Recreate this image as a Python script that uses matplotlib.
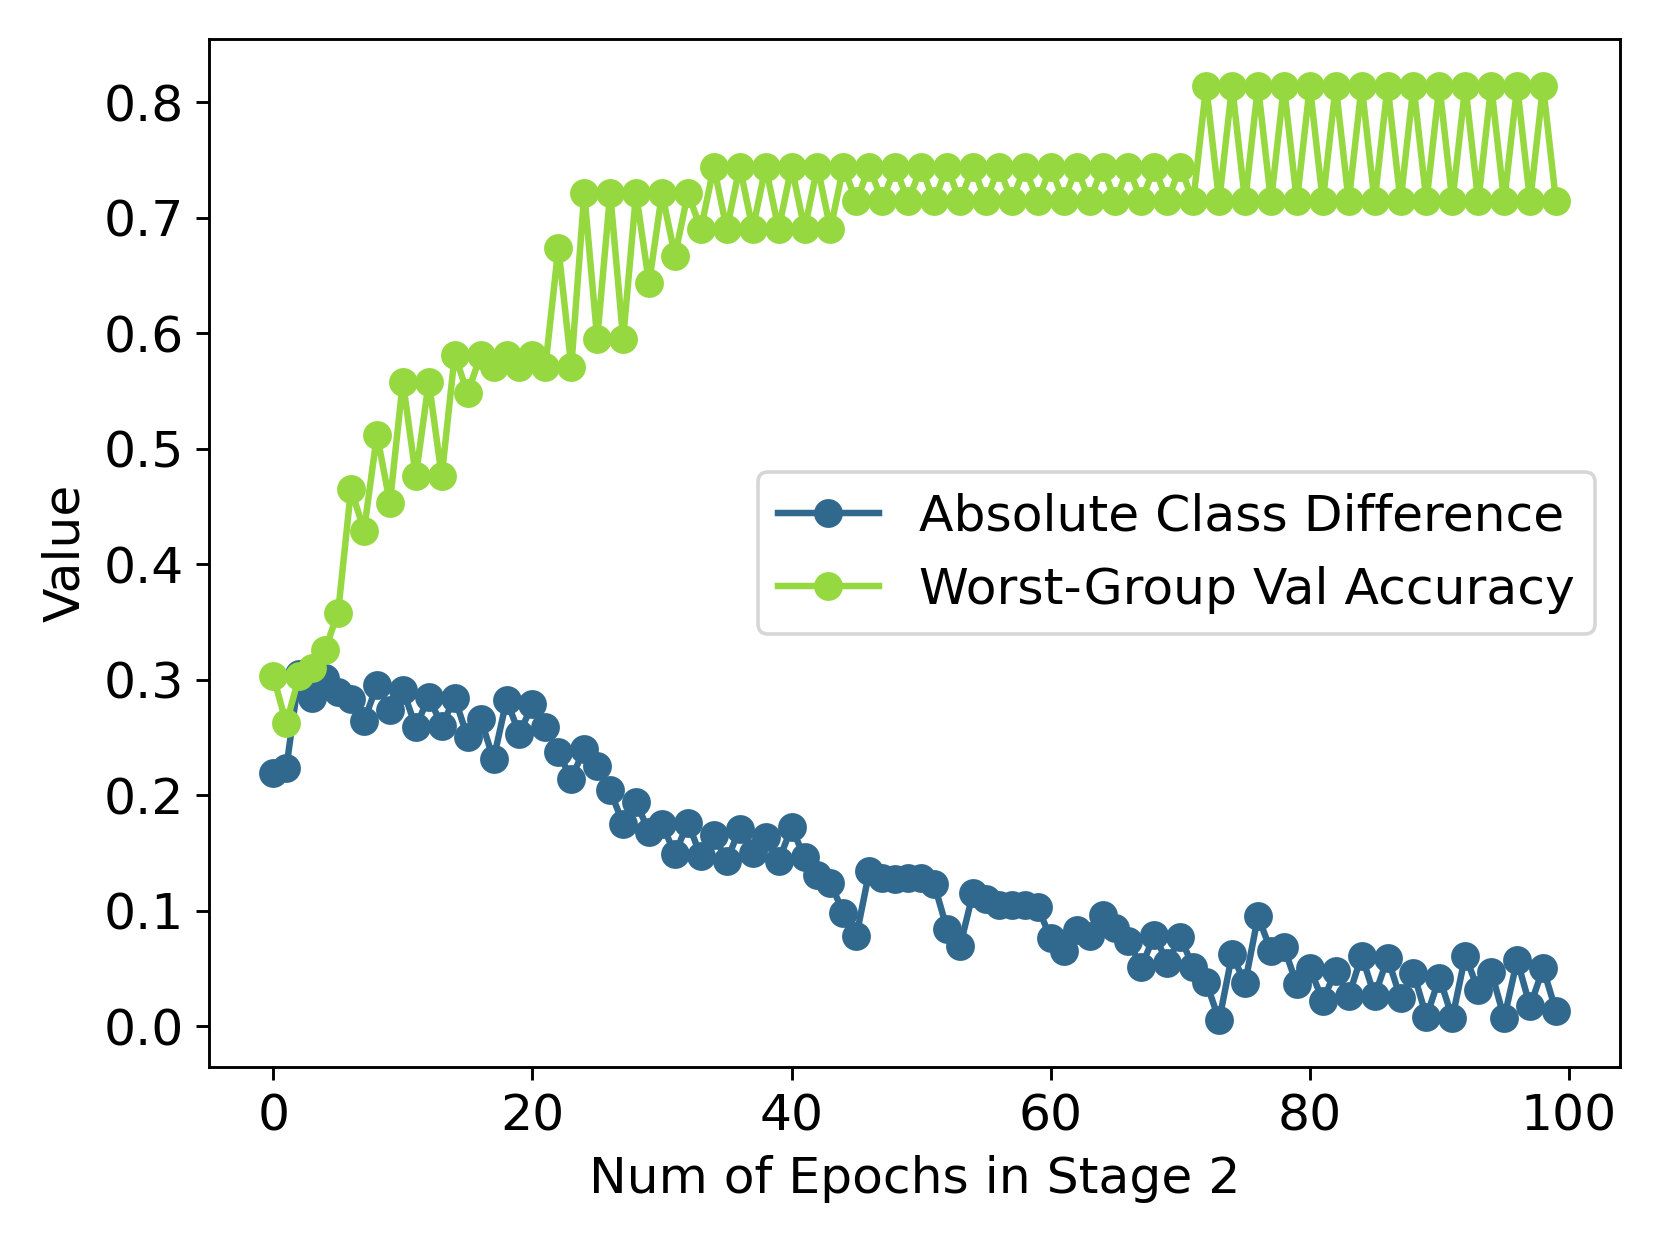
import matplotlib
matplotlib.use('Agg')
import matplotlib.pyplot as plt
import numpy as np

# values
epochs = np.arange(100)

abs_class_diff = [
    0.219, 0.223, 0.305, 0.284, 0.301, 0.289, 0.283, 0.264, 0.295, 0.274,
    0.291, 0.259, 0.285, 0.260, 0.284, 0.250, 0.266, 0.231, 0.282, 0.253,
    0.279, 0.259, 0.237, 0.214, 0.240, 0.225, 0.204, 0.175, 0.194, 0.168,
    0.175, 0.149, 0.176, 0.147, 0.165, 0.143, 0.171, 0.150, 0.164, 0.143,
    0.172, 0.146, 0.131, 0.124, 0.098, 0.078, 0.134, 0.128, 0.127, 0.128,
    0.128, 0.123, 0.084, 0.069, 0.115, 0.110, 0.105, 0.105, 0.105, 0.103,
    0.076, 0.065, 0.083, 0.078, 0.096, 0.085, 0.074, 0.051, 0.079, 0.055,
    0.077, 0.051, 0.038, 0.005, 0.062, 0.037, 0.095, 0.065, 0.068, 0.036,
    0.050, 0.022, 0.048, 0.026, 0.061, 0.026, 0.059, 0.024, 0.046, 0.008,
    0.042, 0.007, 0.061, 0.031, 0.047, 0.007, 0.057, 0.017, 0.050, 0.013,
]

worst_group_acc = [
    0.303, 0.262, 0.303, 0.310, 0.326, 0.358, 0.465, 0.429, 0.512, 0.453,
    0.558, 0.476, 0.558, 0.476, 0.581, 0.548, 0.581, 0.571, 0.581, 0.571,
    0.581, 0.571, 0.674, 0.571, 0.721, 0.595, 0.721, 0.595, 0.721, 0.643,
    0.721, 0.667, 0.721, 0.690, 0.744, 0.690, 0.744, 0.690, 0.744, 0.690,
    0.744, 0.690, 0.744, 0.690, 0.744, 0.714, 0.744, 0.714, 0.744, 0.714,
    0.744, 0.714, 0.744, 0.714, 0.744, 0.714, 0.744, 0.714, 0.744, 0.714,
    0.744, 0.714, 0.744, 0.714, 0.744, 0.714, 0.744, 0.714, 0.744, 0.714,
    0.744, 0.714, 0.814, 0.714, 0.814, 0.714, 0.814, 0.714, 0.814, 0.714,
    0.814, 0.714, 0.814, 0.714, 0.814, 0.714, 0.814, 0.714, 0.814, 0.714,
    0.814, 0.714, 0.814, 0.714, 0.814, 0.714, 0.814, 0.714, 0.814, 0.714,
]

fig, ax = plt.subplots(figsize=(6.4, 4.8), dpi=259.375)
fig.subplots_adjust(left=0.126, right=0.976, top=0.9685, bottom=0.143)

ax.plot(epochs, abs_class_diff, marker='o', color='#31688e', markersize=7,
        linewidth=1.8, label='Absolute Class Difference')
ax.plot(epochs, worst_group_acc, marker='o', color='#95d840', markersize=7,
        linewidth=1.8, label='Worst-Group Val Accuracy')

ax.set_xlabel('Num of Epochs in Stage 2', fontsize=14)
ax.set_ylabel('Value', fontsize=14)
ax.tick_params(labelsize=14)
ax.legend(loc='center right', fontsize=14)

plt.savefig('out.png')
